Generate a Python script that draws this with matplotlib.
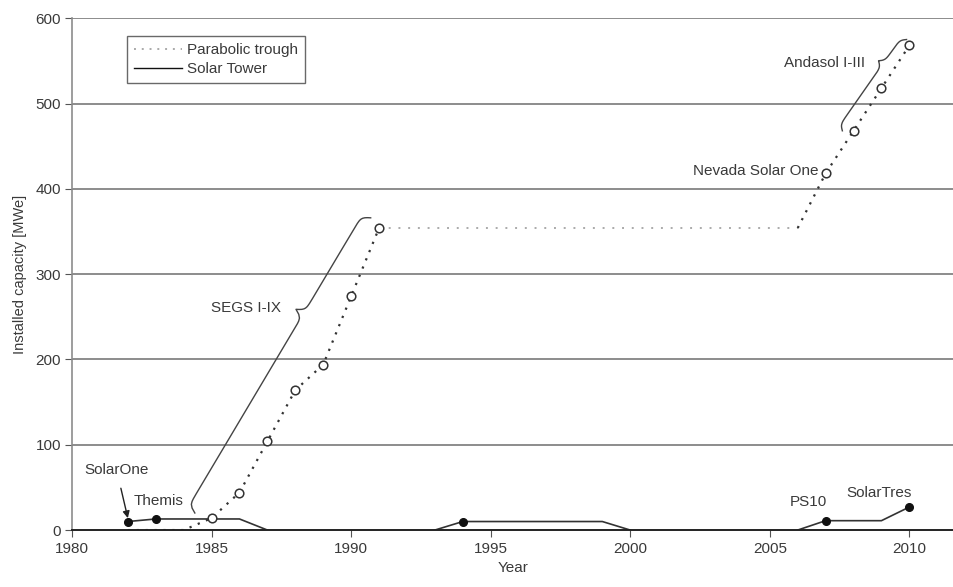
import numpy as np
import matplotlib
matplotlib.use("Agg")
import matplotlib.pyplot as plt

plt.rcParams['font.family'] = ['Liberation Sans', 'DejaVu Sans']

# Parabolic trough cumulative capacity (MWe)
trough_years = [1982, 1984, 1985, 1986, 1987, 1988, 1989, 1990, 1991, 2006, 2007, 2008, 2009, 2010]
trough_cap = [0, 0, 14, 44, 104, 164, 194, 274, 354, 354, 418, 468, 518, 568]
trough_mark_years = [1985, 1986, 1987, 1988, 1989, 1990, 1991, 2007, 2008, 2009, 2010]
trough_mark_cap = [14, 44, 104, 164, 194, 274, 354, 418, 468, 518, 568]

# Solar tower capacity, three separate periods
tower_years = [[1982, 1983, 1986, 1987], [1993, 1994, 1999, 2000], [2006, 2007, 2009, 2010]]
tower_cap = [[10, 13, 13, 0], [0, 10, 10, 0], [0, 11, 11, 27]]
tower_mark_years = [1982, 1983, 1994, 2007, 2010]
tower_mark_cap = [10, 13, 10, 11, 27]

x_ticks = [1980, 1985, 1990, 1995, 2000, 2005, 2010]
y_ticks = [0, 100, 200, 300, 400, 500, 600]

txt = '#3a3a3a'

fig = plt.figure(figsize=(9.54, 5.87), dpi=100)
ax = fig.add_axes([0.0755, 0.097, 0.9245, 0.872])
ax.set_xlim(1980, 2011.6)
ax.set_ylim(0, 600)

# grid lines
for y in y_ticks[1:]:
    ax.axhline(y, color='#8c8c8c', lw=1.4, zorder=0)

# parabolic trough: rising parts dark, flat part lighter
ax.plot(trough_years[:9], trough_cap[:9], ls=(0, (1, 3)), color='#333333', lw=1.6)
ax.plot(trough_years[8:10], trough_cap[8:10], ls=(0, (1, 4)), color='#aaaaaa', lw=1.4)
ax.plot(trough_years[9:], trough_cap[9:], ls=(0, (1, 3)), color='#333333', lw=1.6)
ax.plot(trough_mark_years, trough_mark_cap, ls='none', marker='o', ms=6.2,
        mfc='white', mec='#333333', mew=1.1, zorder=4)

for yrs, cap in zip(tower_years, tower_cap):
    ax.plot(yrs, cap, color='#333333', lw=1.2)
ax.plot(tower_mark_years, tower_mark_cap, ls='none', marker='o', ms=5.5,
        color='#111111', zorder=4)

# legend proxies
ax.plot([], [], ls=(0, (1, 3)), color='#aaaaaa', lw=1.4, label='Parabolic trough')
ax.plot([], [], color='#111111', lw=1.0, label='Solar Tower')
h, l = ax.get_legend_handles_labels()
leg = ax.legend(h[-2:], l[-2:], loc='upper left', bbox_to_anchor=(0.062, 0.965),
                borderaxespad=0, frameon=True, fancybox=False, edgecolor='#444444',
                fontsize=11, handlelength=3.2, handletextpad=0.3, borderpad=0.45,
                labelspacing=0.35)
leg.get_frame().set_linewidth(1.0)
for t in leg.get_texts():
    t.set_color(txt)


def brace(p0, p1, tip_frac, width):
    # curly brace drawn in pixel space between two data points, tip pointing left
    a = ax.transData.transform(p0)
    b = ax.transData.transform(p1)
    d = b - a
    L = np.hypot(*d)
    u = d / L
    n = np.array([-u[1], u[0]])
    if n[0] > 0:
        n = -n
    L1 = L * tip_frac
    L2 = L - L1
    beta = 0.45
    s1 = np.linspace(0, L1, 80)
    o1 = 1 / (1 + np.exp(-beta * s1)) + 1 / (1 + np.exp(-beta * (s1 - L1)))
    s2 = np.linspace(0, L2, 80)
    o2 = 1 / (1 + np.exp(-beta * s2)) + 1 / (1 + np.exp(-beta * (s2 - L2)))
    s = np.concatenate([s1, L1 + s2])
    o = np.concatenate([o1 - 0.5, (o2 - 0.5)[::-1]]) * width / 1.5
    pts = a + np.outer(s, u) + np.outer(o, n)
    pts = ax.transData.inverted().transform(pts)
    ax.plot(pts[:, 0], pts[:, 1], color='#444444', lw=1.0)


brace((1984.4, 20), (1990.7, 366), 0.66, 26)
brace((2007.6, 468), (2009.9, 575), 0.7, 16)

# annotations
ax.text(1987.5, 260, 'SEGS I-IX', ha='right', va='center', fontsize=11, color=txt)
ax.text(2008.4, 548, 'Andasol I-III', ha='right', va='center', fontsize=11, color=txt)
ax.text(2006.75, 421, 'Nevada Solar One', ha='right', va='center', fontsize=11, color=txt)
ax.text(1982.2, 34, 'Themis', ha='left', va='center', fontsize=11, color=txt)
ax.text(2006.4, 33, 'PS10', ha='center', va='center', fontsize=11, color=txt)
ax.text(2008.9, 43, 'SolarTres', ha='center', va='center', fontsize=11, color=txt)
ax.annotate('SolarOne', xy=(1982, 14), xytext=(1981.6, 70), ha='center', va='center',
            fontsize=11, color=txt,
            arrowprops=dict(arrowstyle='-|>', color='#222222', lw=1.0,
                            shrinkA=6, shrinkB=0, mutation_scale=10))

ax.set_xticks(x_ticks)
ax.set_yticks(y_ticks)
ax.tick_params(axis='both', direction='out', length=5, color='#555555',
               labelsize=11, labelcolor=txt)
ax.tick_params(axis='y', pad=3)
ax.set_xlabel('Year', fontsize=11, color=txt, labelpad=4)
ax.set_ylabel('Installed capacity [MWe]', fontsize=10.5, color=txt, labelpad=6)
for side in ['top', 'right']:
    ax.spines[side].set_visible(False)
ax.spines['left'].set_color('#8c8c8c')
ax.spines['left'].set_linewidth(1.2)
ax.spines['bottom'].set_color('#222222')
ax.spines['bottom'].set_linewidth(1.4)

fig.savefig('out.png', dpi=100)
